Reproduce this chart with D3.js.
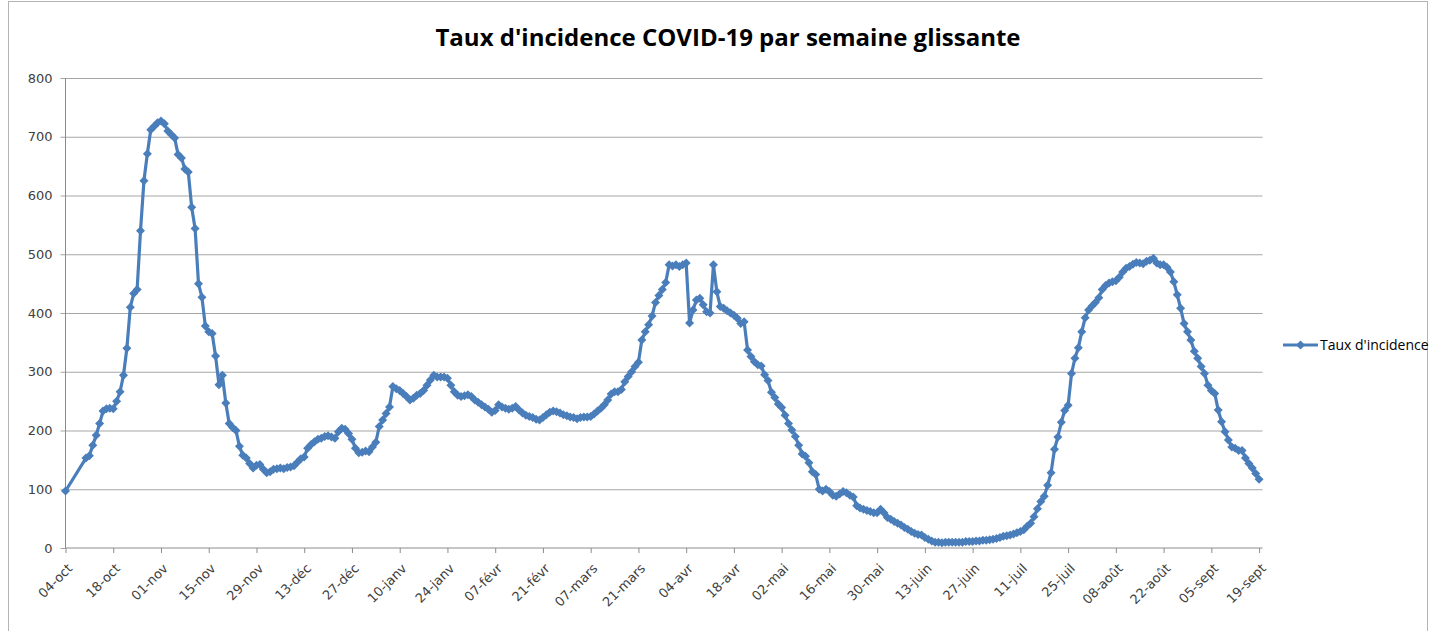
<!DOCTYPE html>
<html>
<head>
<meta charset="utf-8">
<script src="https://cdn.jsdelivr.net/npm/d3@7"></script>
<style>
  body { margin: 0; background: #fff; }
  text { font-family: "Open Sans", sans-serif; }
</style>
</head>
<body>
<script>
// data: one value per day starting 04-oct 2020 (null = no data that day)
var startDate = new Date(2020, 9, 4);
var seriesName = "Taux d'incidence";
var chartTitle = "Taux d'incidence COVID-19 par semaine glissante";

var incidence = [
  97, null, null, null, null, null, 153, 157, 175, 192, 212, 233, 237, 238,   // 04-oct
  237, 250, 266, 294, 340, 410, 433, 440, 540, 625, 671, 712, 718, 724,       // 18-oct
  727, 722, 710, 704, 698, 670, 664, 645, 640, 580, 544, 450, 427, 378,       // 01-nov
  368, 365, 327, 278, 294, 247, 212, 205, 200, 173, 158, 153, 144, 136,       // 15-nov
  141, 142, 134, 128, 130, 134, 135, 136, 135, 137, 138, 140, 146, 152,       // 29-nov
  155, 170, 176, 181, 185, 187, 190, 191, 189, 187, 198, 204, 202, 195,       // 13-déc
  185, 170, 162, 163, 165, 164, 172, 180, 207, 218, 229, 240, 275, 271,       // 27-déc
  268, 263, 258, 252, 255, 260, 263, 268, 277, 286, 294, 291, 291, 291,       // 10-janv
  289, 277, 266, 260, 258, 259, 261, 258, 252, 248, 244, 240, 236, 231,       // 24-janv
  234, 244, 240, 238, 236, 238, 241, 235, 230, 226, 224, 222, 219, 218,       // 07-févr
  222, 227, 231, 233, 232, 230, 227, 225, 223, 222, 220, 222, 223, 223,       // 21-févr
  224, 228, 233, 238, 244, 252, 262, 266, 266, 270, 283, 292, 300, 309,       // 07-mars
  316, 354, 368, 380, 395, 418, 430, 440, 452, 482, 480, 482, 479, 482,       // 21-mars
  485, 383, 405, 422, 425, 414, 402, 400, 482, 436, 411, 408, 404, 400,       // 04-avr
  396, 391, 382, 385, 337, 326, 317, 312, 310, 295, 285, 265, 256, 245,       // 18-avr
  239, 226, 212, 201, 190, 175, 160, 156, 145, 130, 125, 100, 97, 100,        // 02-mai
  96, 90, 88, 92, 96, 94, 90, 87, 72, 68, 66, 64, 62, 60,                     // 16-mai
  60, 66, 60, 52, 49, 45, 42, 39, 35, 32, 28, 25, 23, 22,                     // 30-mai
  18, 15, 12, 10, 10, 9, 10, 10, 10, 10, 10, 10, 11, 11,                      // 13-juin
  11, 12, 12, 13, 13, 14, 15, 16, 18, 20, 21, 22, 24, 26,                     // 27-juin
  28, 31, 37, 42, 53, 67, 79, 88, 107, 128, 168, 189, 214, 234,               // 11-juil
  243, 297, 323, 341, 368, 392, 405, 412, 418, 426, 440, 447, 451, 453,       // 25-juil
  455, 461, 470, 476, 479, 483, 486, 485, 484, 488, 490, 493, 485, 482,       // 08-août
  482, 478, 470, 453, 431, 408, 382, 368, 354, 335, 323, 309, 297, 277,       // 22-août
  268, 263, 235, 215, 198, 184, 172, 170, 166, 166, 153, 144, 136, 127,       // 05-sept
  117                                                                         // 19-sept
];

var tickLabels = ["04-oct", "18-oct", "01-nov", "15-nov", "29-nov", "13-déc", "27-déc",
                  "10-janv", "24-janv", "07-févr", "21-févr", "07-mars", "21-mars",
                  "04-avr", "18-avr", "02-mai", "16-mai", "30-mai", "13-juin", "27-juin",
                  "11-juil", "25-juil", "08-août", "22-août", "05-sept", "19-sept"];

var yTicks = [0, 100, 200, 300, 400, 500, 600, 700, 800];

var width = 1437;
var height = 631;
var plot = {left: 65.5, right: 1262.5, top: 78, bottom: 548};
var lineColor = "#4a7ebb";
var gridColor = "#a6a6a6";
var labelColor = "#404040";

var points = incidence
  .map(function(v, i) { return {day: d3.timeDay.offset(startDate, i), value: v}; })
  .filter(function(d) { return d.value !== null; });

var tickDates = tickLabels.map(function(l, i) { return d3.timeDay.offset(startDate, i * 14); });

// scales
var x = d3.scaleTime()
  .domain([startDate, d3.timeDay.offset(startDate, incidence.length)])
  .range([plot.left, plot.right]);

var y = d3.scaleLinear()
  .domain([0, 800])
  .range([plot.bottom, plot.top]);

var svg = d3.select("body")
  .append("svg")
  .attr("width", width)
  .attr("height", height);

/* chart frame */
svg.append("rect")
  .attr("x", 8.5)
  .attr("y", 1.5)
  .attr("width", 1419)
  .attr("height", 700)
  .style("fill", "none")
  .style("stroke", "#b4b4b4");

/* title */
svg.append("text")
  .attr("x", 728)
  .attr("y", 46)
  .attr("text-anchor", "middle")
  .style("font-size", "24px")
  .style("font-weight", "bold")
  .style("fill", "#000")
  .text(chartTitle);

/* y grid + labels */
var yAxis = g => g
  .attr("transform", `translate(${plot.left},0)`)
  .call(d3.axisLeft(y)
    .tickValues(yTicks)
    .tickSize(5)
    .tickPadding(8))
  .call(g => g.select(".domain").remove())
  .call(g => g.selectAll(".tick line").style("stroke", gridColor))
  .call(g => g.selectAll(".tick").append("line")
    .attr("x1", 0)
    .attr("x2", plot.right - plot.left)
    .style("stroke", d => d == 0 ? "none" : gridColor))
  .call(g => g.selectAll(".tick text")
    .style("font-family", "'DejaVu Sans', sans-serif")
    .style("font-size", "13px")
    .style("fill", labelColor));

svg.append("g").call(yAxis);

svg.append("line")
  .attr("x1", plot.left).attr("x2", plot.left)
  .attr("y1", plot.top).attr("y2", plot.bottom)
  .style("stroke", "#8c8c8c");

/* x axis */
var xAxis = g => g
  .attr("transform", `translate(0,${plot.bottom})`)
  .call(d3.axisBottom(x)
    .tickValues(tickDates)
    .tickSize(5)
    .tickFormat((d, i) => tickLabels[i]))
  .call(g => g.select(".domain")
    .attr("d", `M${plot.left},0H${plot.right}`)
    .style("stroke", "#8c8c8c"))
  .call(g => g.selectAll(".tick line").style("stroke", "#8c8c8c"))
  .call(g => g.selectAll(".tick text")
    .attr("y", 0)
    .attr("dy", "0.35em")
    .attr("text-anchor", "end")
    .attr("transform", "translate(4,18) rotate(-45)")
    .style("font-family", "'DejaVu Sans', sans-serif")
    .style("font-size", "13px")
    .style("fill", labelColor));

svg.append("g").call(xAxis);

/* series */
var line = d3.line()
  .x(d => x(d.day))
  .y(d => y(d.value));

svg.append("path")
  .datum(points)
  .attr("d", line)
  .style("fill", "none")
  .style("stroke", lineColor)
  .style("stroke-width", 3.2)
  .style("stroke-linejoin", "round");

var diamond = "M0,-4.5L4.5,0L0,4.5L-4.5,0Z";

svg.append("g")
  .selectAll("path")
  .data(points)
  .enter()
  .append("path")
  .attr("d", diamond)
  .attr("transform", d => `translate(${x(d.day)},${y(d.value)})`)
  .style("fill", lineColor);

/* legend */
var legend = svg.append("g")
  .attr("transform", "translate(1283,345)");

legend.append("line")
  .attr("x1", 0).attr("x2", 35)
  .style("stroke", lineColor)
  .style("stroke-width", 3);

legend.append("path")
  .attr("d", diamond)
  .attr("transform", "translate(17.5,0)")
  .style("fill", lineColor);

legend.append("text")
  .attr("x", 37)
  .attr("dy", "0.35em")
  .style("font-size", "14px")
  .style("fill", "#000")
  .text(seriesName);
</script>
</body>
</html>
